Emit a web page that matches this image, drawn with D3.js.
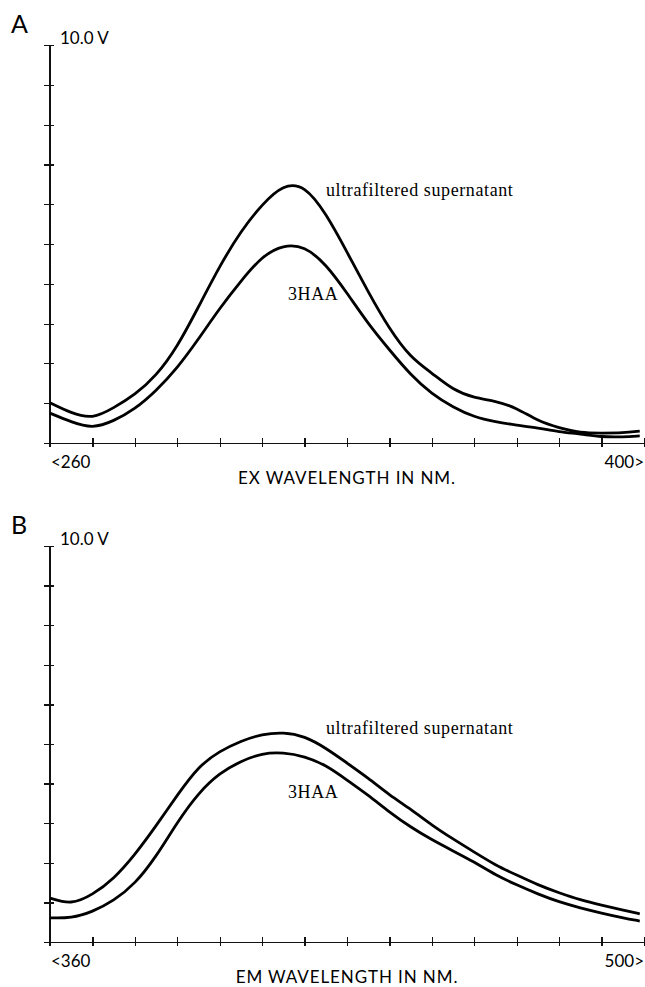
<!doctype html>
<html>
<head>
  <meta charset="utf-8">
  <title>Excitation / emission spectra</title>
  <script src="https://d3js.org/d3.v7.min.js"></script>
  <style>
    body { margin: 0; padding: 0; background: #fff; }
    .axis path, .axis line { stroke: #111; stroke-width: 1.2; shape-rendering: crispEdges; }
    .axis text { display: none; }
    .curve { fill: none; stroke: #000; stroke-width: 2.8; }
    .sans { font-family: Lato, "Open Sans", sans-serif; fill: #000; }
    .serif { font-family: "Liberation Serif", "DejaVu Serif", serif; fill: #000; font-size: 18px; letter-spacing: 0.6px; }
  </style>
</head>
<body>
<div id="container"></div>
<script>
  // panel A: excitation scan (nm) and signal (V)
  var exWavelength = [260, 265, 270, 275, 280, 285, 290, 295, 300, 305, 310, 315, 320, 325,
                      330, 335, 340, 345, 350, 355, 360, 365, 370, 375, 380, 385, 390, 395, 399]
  var exSupernatant = [1.01, 0.75, 0.60, 0.88, 1.21, 1.68, 2.41, 3.42, 4.45, 5.33, 6.00, 6.50, 6.48, 5.78,
                       4.80, 3.79, 2.86, 2.14, 1.76, 1.33, 1.13, 1.06, 0.88, 0.55, 0.38, 0.25, 0.25, 0.25, 0.30]
  var exHAA = [0.75, 0.53, 0.36, 0.55, 0.85, 1.31, 1.88, 2.61, 3.39, 4.07, 4.70, 4.98, 4.95, 4.50,
               3.77, 2.99, 2.34, 1.71, 1.23, 0.90, 0.65, 0.53, 0.45, 0.38, 0.28, 0.23, 0.15, 0.15, 0.18]

  // panel B: emission scan
  var emWavelength = [360, 365, 370, 375, 380, 385, 390, 395, 400, 405, 410, 415, 420, 425,
                      430, 435, 440, 445, 450, 455, 460, 465, 470, 475, 480, 485, 490, 495, 499]
  var emSupernatant = [1.11, 0.94, 1.19, 1.59, 2.20, 2.93, 3.71, 4.44, 4.82, 5.08, 5.25, 5.30, 5.20, 4.90,
                       4.52, 4.14, 3.71, 3.36, 2.95, 2.60, 2.27, 1.94, 1.69, 1.44, 1.24, 1.06, 0.93, 0.81, 0.71]
  var emHAA = [0.61, 0.60, 0.76, 1.04, 1.46, 2.15, 3.03, 3.77, 4.27, 4.57, 4.77, 4.79, 4.69, 4.47,
               4.09, 3.71, 3.28, 2.90, 2.58, 2.30, 2.02, 1.69, 1.44, 1.21, 1.01, 0.86, 0.73, 0.61, 0.53]

  var yTicks = d3.range(0, 10.01, 1)

  var svg = d3.select("#container").append("svg")
      .attr("width", 645)
      .attr("height", 987)

  function drawPanel(opt) {
    var x = d3.scaleLinear().domain(opt.xDomain).range([50, 644])
    var y = d3.scaleLinear().domain([0, 10]).range([opt.bottom, opt.top])
    var g = svg.append("g")

    // y axis, ticks crossing the line
    var ya = g.append("g").attr("class", "axis")
        .attr("transform", "translate(50,0)")
        .call(d3.axisLeft(y).tickValues(yTicks).tickSize(6).tickSizeOuter(0))
    ya.selectAll(".tick line").attr("x1", 4)
    ya.select(".domain").attr("d", "M0," + (opt.top) + "V" + (opt.bottom + 4))

    // x axis
    var xt = d3.range(opt.xDomain[0], opt.xDomain[1] + 0.1, 10)
    var xa = g.append("g").attr("class", "axis")
        .attr("transform", "translate(0," + opt.bottom + ")")
        .call(d3.axisBottom(x).tickValues(xt).tickSize(4).tickSizeOuter(0))
    xa.selectAll(".tick line").attr("y1", -5)

    var line = d3.line()
        .x(function(d) { return x(d[0]) })
        .y(function(d) { return y(d[1]) })
        .curve(d3.curveBasis)

    opt.series.forEach(function(s) {
      g.append("path").attr("class", "curve")
        .datum(d3.zip(opt.wl, s))
        .attr("d", line)
    })

    // texts
    g.append("text").attr("class", "sans")
      .attr("x", 11).attr("y", opt.top - 12)
      .style("font-size", "25px").text(opt.letter)
    g.append("text").attr("class", "sans")
      .attr("x", 60).attr("y", opt.top - 1)
      .style("font-size", "17px").text("10.0 V")
    g.append("text").attr("class", "sans")
      .attr("x", 51).attr("y", opt.bottom + 25)
      .style("font-size", "17px").text("<" + opt.xDomain[0])
    g.append("text").attr("class", "sans")
      .attr("x", 644).attr("y", opt.bottom + 25)
      .attr("text-anchor", "end")
      .style("font-size", "17px").text(opt.xDomain[1] + ">")
    g.append("text").attr("class", "sans")
      .attr("x", 347).attr("y", opt.bottom + 41)
      .attr("text-anchor", "middle")
      .style("font-size", "17px").style("letter-spacing", "0.9px").text(opt.title)

    g.append("text").attr("class", "serif")
      .attr("x", 326).attr("y", opt.labelY[0]).text("ultrafiltered supernatant")
    g.append("text").attr("class", "serif")
      .attr("x", 288).attr("y", opt.labelY[1]).text("3HAA")
  }

  drawPanel({
    letter: "A", top: 45, bottom: 443, xDomain: [260, 400],
    wl: exWavelength, series: [exSupernatant, exHAA],
    title: "EX WAVELENGTH IN NM.", labelY: [196, 300]
  })
  drawPanel({
    letter: "B", top: 546, bottom: 942, xDomain: [360, 500],
    wl: emWavelength, series: [emSupernatant, emHAA],
    title: "EM WAVELENGTH IN NM.", labelY: [734, 798]
  })
</script>
</body>
</html>
